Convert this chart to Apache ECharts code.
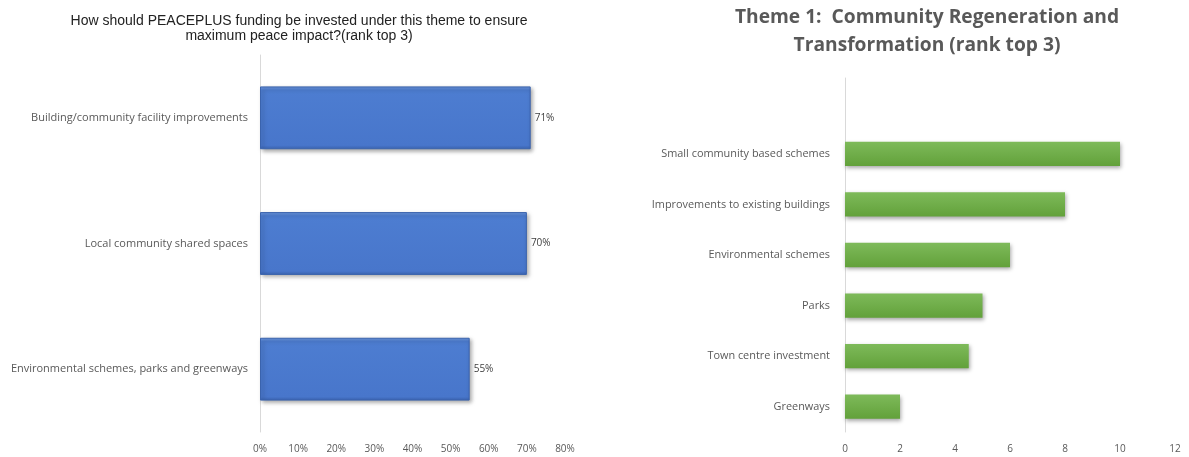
<!DOCTYPE html>
<html><head><meta charset="utf-8">
<script src="https://cdn.jsdelivr.net/npm/echarts@6/dist/echarts.min.js"></script>
<style>html,body{margin:0;padding:0;background:#fff}#c{width:1189px;height:457px}</style>
</head><body><div id="c"></div>
<script>
// Left chart data (bottom to top)
const leftCategories = ["Environmental schemes, parks and greenways", "Local community shared spaces", "Building/community facility improvements"];
const leftValues = [55, 70, 71];
const leftTicks = ["0%", "10%", "20%", "30%", "40%", "50%", "60%", "70%", "80%"];
// Right chart data (bottom to top); top slot is empty in the original
const rightCategories = ["Greenways", "Town centre investment", "Parks", "Environmental schemes", "Improvements to existing buildings", "Small community based schemes", ""];
const rightValues = [2, 4.5, 5, 6, 8, 10, null];
const rightTicks = [0, 2, 4, 6, 8, 10, 12];

const lblFont = '"Open Sans", "Noto Sans", sans-serif';
const chart = echarts.init(document.getElementById('c'));
chart.setOption({
  animation: false,
  title: [
    { text: 'How should PEACEPLUS funding be invested under this theme to ensure\nmaximum peace impact?(rank top 3)',
      left: 294, top: 9, textAlign: 'center',
      textStyle: { fontFamily: '"Liberation Sans", Arial, sans-serif', fontSize: 14, fontWeight: 'normal', color: '#222', lineHeight: 15 } },
    { text: 'Theme 1:  Community Regeneration and\nTransformation (rank top 3)',
      left: 922, top: -1, textAlign: 'center',
      textStyle: { fontFamily: lblFont, fontSize: 19.2, fontWeight: 'bold', color: '#595959', lineHeight: 28 } }
  ],
  grid: [
    { left: 260, right: 624, top: 55, bottom: 25, containLabel: false },
    { left: 845, right: 14, top: 78, bottom: 25, containLabel: false }
  ],
  xAxis: [
    { gridIndex: 0, type: 'value', min: 0, max: 80, interval: 10,
      axisLine: { show: false }, axisTick: { show: false }, splitLine: { show: false },
      axisLabel: { margin: 12, color: '#595959', fontFamily: lblFont, fontSize: 10,
        formatter: v => leftTicks[Math.round(v / 10)] } },
    { gridIndex: 1, type: 'value', min: 0, max: 12, interval: 2,
      axisLine: { show: false }, axisTick: { show: false }, splitLine: { show: false },
      axisLabel: { margin: 12, color: '#595959', fontFamily: lblFont, fontSize: 10,
        formatter: v => String(rightTicks[Math.round(v / 2)]) } }
  ],
  yAxis: [
    { gridIndex: 0, type: 'category', data: leftCategories,
      axisLine: { show: true, lineStyle: { color: '#d9d9d9', width: 1 } }, axisTick: { show: false },
      axisLabel: { margin: 12, color: '#595959', fontFamily: lblFont, fontSize: 11 } },
    { gridIndex: 1, type: 'category', data: rightCategories,
      axisLine: { show: true, lineStyle: { color: '#d9d9d9', width: 1 } }, axisTick: { show: false },
      axisLabel: { margin: 15, color: '#595959', fontFamily: lblFont, fontSize: 10.9 } }
  ],
  series: [
    { type: 'bar', xAxisIndex: 0, yAxisIndex: 0, data: leftValues, barCategoryGap: '50%',
      itemStyle: {
        color: { type: 'linear', x: 0, y: 0, x2: 0, y2: 1, colorStops: [
          { offset: 0, color: '#6f98df' }, { offset: 0.06, color: '#4d7dd1' }, { offset: 0.94, color: '#4876cb' }, { offset: 1, color: '#3c66b4' } ] },
        borderColor: '#3a63ad', borderWidth: 1,
        shadowBlur: 4, shadowColor: 'rgba(0,0,0,0.35)', shadowOffsetX: 2, shadowOffsetY: 2 },
      label: { show: true, position: 'right', distance: 4, color: '#404040', fontFamily: lblFont, fontSize: 10,
        formatter: p => p.value + '%' } },
    { type: 'bar', xAxisIndex: 1, yAxisIndex: 1, data: rightValues, barCategoryGap: '52%',
      itemStyle: {
        color: { type: 'linear', x: 0, y: 0, x2: 0, y2: 1, colorStops: [
          { offset: 0, color: '#7eba5a' }, { offset: 1, color: '#62a13a' } ] },
        shadowBlur: 4, shadowColor: 'rgba(0,0,0,0.35)', shadowOffsetX: 1, shadowOffsetY: 2 } }
  ]
});
</script></body></html>
